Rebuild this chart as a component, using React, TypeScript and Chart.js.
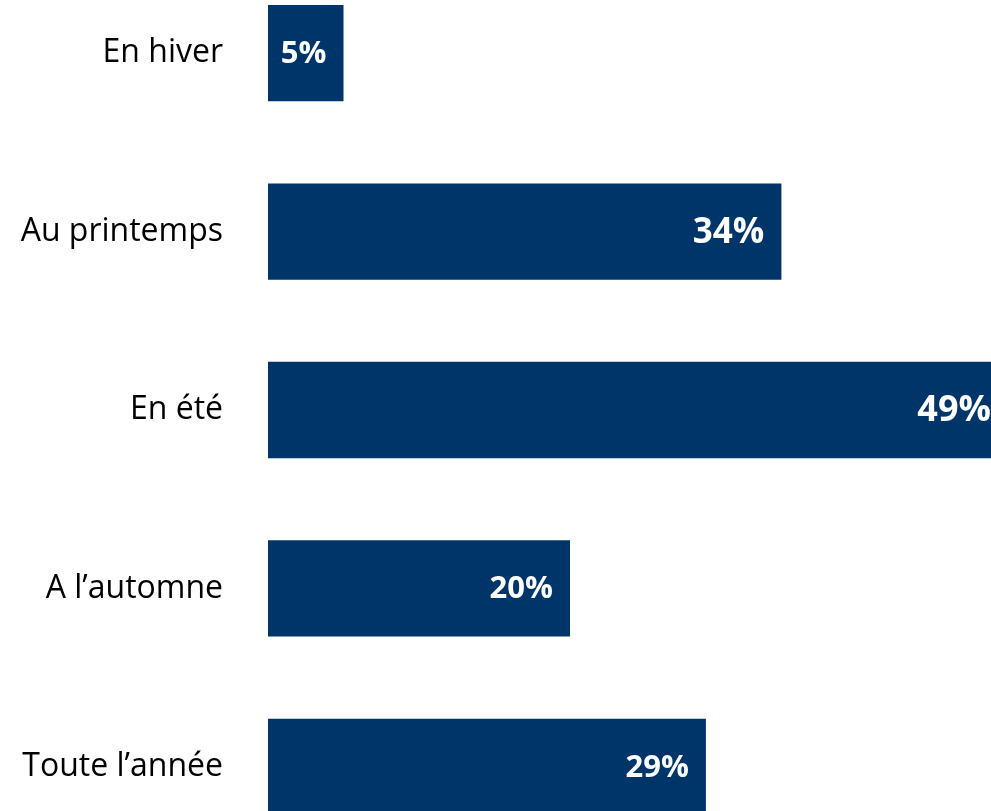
import React, { useEffect, useRef } from "react";
import { Chart, registerables } from "chart.js";

Chart.register(...registerables);

const categories = ["En hiver", "Au printemps", "En été", "A l’automne", "Toute l’année"];
const values = [5, 34, 49, 20, 29];
const valueLabels = ["5%", "34%", "49%", "20%", "29%"];
const valueLabelFontSizes = [31, 35, 36, 31, 31];

const BAR_COLOR = "#00356a";
const FONT = "'Open Sans', 'Noto Sans', sans-serif";

const valueLabelPlugin = {
  id: "valueLabels",
  afterDatasetsDraw(chart: any) {
    const ctx = chart.ctx;
    const meta = chart.getDatasetMeta(0);
    ctx.save();
    ctx.fillStyle = "#ffffff";
    ctx.textAlign = "right";
    ctx.textBaseline = "middle";
    meta.data.forEach((bar: any, i: number) => {
      ctx.font = `bold ${valueLabelFontSizes[i]}px ${FONT}`;
      ctx.fillText(valueLabels[i], bar.x - 17, bar.y + 1);
    });
    ctx.restore();
  },
};

export default function App() {
  const ref = useRef<HTMLCanvasElement>(null);
  useEffect(() => {
    if (!ref.current) return;
    const chart = new Chart(ref.current, {
      type: "bar",
      data: {
        labels: categories,
        datasets: [
          {
            data: values,
            backgroundColor: BAR_COLOR,
            borderWidth: 0,
            categoryPercentage: 1,
            barPercentage: 0.54,
          },
        ],
      },
      options: {
        indexAxis: "y",
        responsive: false,
        animation: false,
        devicePixelRatio: 1,
        layout: { padding: 0 },
        plugins: { legend: { display: false }, tooltip: { enabled: false } },
        scales: {
          x: { display: false, min: 0, max: 50 },
          y: {
            grid: { display: false, drawTicks: false },
            border: { display: false },
            ticks: {
              color: "#000000",
              font: { family: FONT, size: 32 },
              padding: 45,
            },
            afterFit(scale: any) {
              scale.width = 268;
              scale.paddingTop = 0;
              scale.paddingBottom = 0;
            },
          },
        },
      },
      plugins: [valueLabelPlugin],
    });
    return () => chart.destroy();
  }, []);
  return (
    <div
      style={{
        position: "fixed",
        left: 0,
        top: 0,
        width: 991,
        height: 811,
        overflow: "hidden",
        background: "#ffffff",
      }}
    >
      <canvas
        ref={ref}
        width={1023}
        height={892}
        style={{ position: "absolute", left: 0, top: -36, width: 1023, height: 892 }}
      />
    </div>
  );
}
